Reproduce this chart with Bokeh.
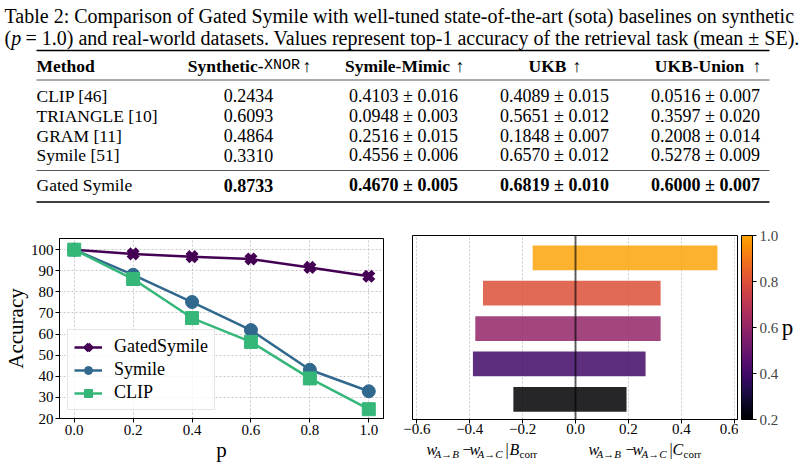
from bokeh.plotting import figure
from bokeh.models import (Range1d, ColumnDataSource, Legend, LegendItem, FixedTicker,
                          PrintfTickFormatter, CustomJSTickFormatter, Span,
                          ColorBar, LinearColorMapper)
from bokeh.layouts import column, row
from bokeh.palettes import Inferno256
from bokeh.core.properties import value
from bokeh.embed import file_html
from bokeh.resources import INLINE

SERIF = "Liberation Serif"
MONO = "Liberation Mono"

# ---------------- table data ----------------
caption_1 = "Table 2: Comparison of Gated Symile with well-tuned state-of-the-art (sota) baselines on synthetic"
caption_2 = "= 1.0) and real-world datasets. Values represent top-1 accuracy of the retrieval task (mean \u00b1 SE)."
methods = ["CLIP [46]", "TRIANGLE [10]", "GRAM [11]", "Symile [51]", "Gated Symile"]
synthetic_xnor = [0.2434, 0.6093, 0.4864, 0.3310, 0.8733]
mimic_mean = [0.4103, 0.0948, 0.2516, 0.4556, 0.4670]
mimic_se = [0.016, 0.003, 0.015, 0.006, 0.005]
ukb_mean = [0.4089, 0.5651, 0.1848, 0.6570, 0.6819]
ukb_se = [0.015, 0.012, 0.007, 0.012, 0.010]
union_mean = [0.0516, 0.3597, 0.2008, 0.5278, 0.6000]
union_se = [0.007, 0.020, 0.014, 0.009, 0.007]
col_headers = ["Symile-Mimic", "UKB", "UKB-Union"]

# ---------------- line chart data ----------------
p_values = [0.0, 0.2, 0.4, 0.6, 0.8, 1.0]
gated_acc = [100.0, 98.0, 96.7, 95.6, 91.6, 87.4]
symile_acc = [100.0, 88.1, 75.2, 61.9, 43.1, 32.9]
clip_acc = [100.0, 86.1, 67.6, 56.3, 39.0, 24.4]
series_names = ["GatedSymile", "Symile", "CLIP"]

# ---------------- bar chart data ----------------
bar_p = [0.2, 0.4, 0.6, 0.8, 1.0]
b_corr = [-0.235, -0.388, -0.379, -0.350, -0.162]
c_corr = [0.193, 0.265, 0.322, 0.322, 0.537]


def txt(fig, x, y, s, size, style="normal", font=SERIF, align="left", baseline="middle"):
    fig.text(x=[x], y=[y], text=[s], text_font=value(font), text_font_size=f"{size}px",
             text_font_style=style, text_align=align, text_baseline=baseline,
             text_color="black")


def canvas_fig(x0, x1, y0, y1):
    """A bare figure whose data coordinates equal page pixels."""
    f = figure(width=int(round(x1 - x0)), height=int(round(y1 - y0)),
               x_range=Range1d(x0, x1), y_range=Range1d(y1, y0),
               x_axis_type=None, y_axis_type=None, output_backend="svg",
               toolbar_location=None, min_border=0)
    f.grid.visible = False
    f.outline_line_color = None
    return f


# =============== TABLE FIGURE ===============
TH = 222
t = canvas_fig(0, 805, 0, TH)

CAP = 20
txt(t, 4, 15, caption_1, CAP)
txt(t, 4, 37, "(", CAP)
txt(t, 10.7, 37, "p", CAP, "italic")
txt(t, 25, 37, caption_2, CAP)

# rules
t.segment(x0=[36], y0=[50], x1=[769], y1=[50], line_color="black", line_width=1.6)
t.segment(x0=[36], y0=[79.5], x1=[769], y1=[79.5], line_color="#555555", line_width=1)
t.segment(x0=[36], y0=[170], x1=[769], y1=[170], line_color="#555555", line_width=1)
t.segment(x0=[36], y0=[201.5], x1=[769], y1=[201.5], line_color="black", line_width=1.6)

# header
HY = 65
txt(t, 36, HY, "Method", 17.5, "bold")
txt(t, 263, HY, "Synthetic-", 17.5, "bold", align="right")
txt(t, 263.5, HY, "XNOR", 15, "normal", font=MONO)
txt(t, 302, HY, "\u2191", 17.5)
col_x = [248, 403, 554, 705]
hdr_name_x = [397, 547, 699]
hdr_arrow_x = [455, 572, 752]
for nx, axx, name in zip(hdr_name_x, hdr_arrow_x, col_headers):
    txt(t, nx, HY, name, 17.5, "bold", align="center")
    txt(t, axx, HY, "\u2191", 17.5)

row_y = [95, 115, 135, 154.5, 184.5]
for i, m in enumerate(methods):
    style = "bold" if i == 4 else "normal"
    txt(t, 36, row_y[i], m, 17.5)
    txt(t, col_x[0], row_y[i], f"{synthetic_xnor[i]:.4f}", 18, style, align="center")
    txt(t, col_x[1], row_y[i], f"{mimic_mean[i]:.4f} \u00b1 {mimic_se[i]:.3f}", 18, style, align="center")
    txt(t, col_x[2], row_y[i], f"{ukb_mean[i]:.4f} \u00b1 {ukb_se[i]:.3f}", 18, style, align="center")
    txt(t, col_x[3], row_y[i], f"{union_mean[i]:.4f} \u00b1 {union_se[i]:.3f}", 18, style, align="center")

# =============== LEFT: LINE CHART ===============
CH = 464 - TH
L = figure(width=400, height=CH, x_range=Range1d(-0.05, 1.05), y_range=Range1d(20, 105.3),
           output_backend="svg", toolbar_location=None,
           min_border_left=56, min_border_right=17, min_border_top=16, min_border_bottom=44)
L.outline_line_color = "black"
L.outline_line_alpha = 1
for ax in (L.xaxis[0], L.yaxis[0]):
    ax.axis_line_color = "black"
    ax.major_tick_in = 0
    ax.major_tick_out = 4
    ax.minor_tick_line_color = None
    ax.major_label_text_font = SERIF
    ax.major_label_text_font_size = "15px"
    ax.major_label_text_color = "black"
    ax.axis_label_text_font = SERIF
    ax.axis_label_text_font_size = "21px"
    ax.axis_label_text_font_style = "normal"
    ax.axis_label_text_color = "black"
L.xaxis.ticker = FixedTicker(ticks=p_values)
L.xaxis.formatter = PrintfTickFormatter(format="%.1f")
L.yaxis.ticker = FixedTicker(ticks=[20, 30, 40, 50, 60, 70, 80, 90, 100])
L.xaxis.axis_label = "p"
L.yaxis.axis_label = "Accuracy"
L.xaxis.major_label_standoff = 2
L.xaxis.axis_label_standoff = 0
L.yaxis.major_label_standoff = 2
L.yaxis.axis_label_standoff = 0
L.grid.grid_line_color = "#bbbbbb"
L.grid.grid_line_dash = "2 2"
L.grid.grid_line_alpha = 0.8

colors = ["#440154", "#31688e", "#35b779"]
markers = ["x", "circle", "square"]
items = []
for name, acc, col, mk in zip(series_names, [gated_acc, symile_acc, clip_acc], colors, markers):
    src = ColumnDataSource(dict(p=p_values, acc=acc))
    r1 = L.line("p", "acc", source=src, line_color=col, line_width=2.5)
    if mk == "x":
        r2 = L.scatter("p", "acc", source=src, marker="x", size=13, line_color=col, line_width=5.5)
    else:
        r2 = L.scatter("p", "acc", source=src, marker=mk, size=13, fill_color=col, line_color=col)
    items.append(LegendItem(label=name, renderers=[r1, r2]))

legend = Legend(items=items, location="bottom_left", margin=8, padding=6, spacing=2,
                glyph_width=28, glyph_height=20, label_height=20, label_standoff=12,
                label_text_font=SERIF, label_text_font_size="18px", label_text_color="black",
                border_line_color="#cccccc", background_fill_alpha=0.8)
L.add_layout(legend)

# =============== RIGHT: BAR CHART ===============
RH = 440 - TH          # bar chart canvas: page y 222..440
R = figure(width=338, height=RH, x_range=Range1d(-0.6165, 0.6165), y_range=Range1d(-0.57, 4.63),
           output_backend="svg", toolbar_location=None, y_axis_type=None,
           min_border_left=12, min_border_right=0, min_border_top=13, min_border_bottom=20)
R.outline_line_color = "black"
R.outline_line_alpha = 1
xa = R.xaxis[0]
xa.axis_line_color = "black"
xa.major_tick_in = 0
xa.major_tick_out = 4
xa.minor_tick_line_color = None
xa.major_label_text_font = SERIF
xa.major_label_text_font_size = "15px"
xa.major_label_text_color = "black"
xa.major_label_standoff = 0
xa.ticker = FixedTicker(ticks=[-0.6, -0.4, -0.2, 0.0, 0.2, 0.4, 0.6])
xa.formatter = CustomJSTickFormatter(code="return tick.toFixed(1).replace('-', '\u2212');")
R.xgrid.grid_line_color = "#bbbbbb"
R.xgrid.grid_line_dash = "2 2"
R.xgrid.grid_line_alpha = 0.8

mapper = LinearColorMapper(palette=Inferno256[:205], low=0.2, high=1.0)
bsrc = ColumnDataSource(dict(y=list(range(len(bar_p))), left=b_corr, right=c_corr, p=bar_p))
R.hbar(y="y", left="left", right="right", height=0.7, source=bsrc,
       fill_color={"field": "p", "transform": mapper}, line_color=None, fill_alpha=0.85)
R.add_layout(Span(location=0, dimension="height", line_color="black", line_alpha=0.6, line_width=2))

# colour bar holder (page x 738..781): tiny empty frame, bar in its right panel
CBF = figure(width=43, height=RH, x_range=Range1d(0, 1), y_range=Range1d(0, 1),
             x_axis_type=None, y_axis_type=None, output_backend="svg", toolbar_location=None,
             min_border_left=0, min_border_right=37, min_border_top=13, min_border_bottom=21)
CBF.grid.visible = False
CBF.outline_line_color = None
cb = ColorBar(color_mapper=mapper, width=11, height=184, padding=0, margin=0,
              ticker=FixedTicker(ticks=bar_p), formatter=PrintfTickFormatter(format="%.1f"),
              major_label_text_font=SERIF, major_label_text_font_size="15px",
              major_tick_in=0, major_tick_out=4, major_tick_line_color="black",
              bar_line_color="black", label_standoff=3, minor_tick_line_color=None,
              background_fill_alpha=0)
CBF.add_layout(cb, "right")

# colour-bar label "p" (page x 781..805)
P = canvas_fig(781, 805, TH, 440)
txt(P, 787, 331, "p", 23, align="center")

# math x-axis labels of the bar chart (page y 440..464)
S = canvas_fig(400, 805, 440, 464)
MAIN_Y = 449
SUB_Y = 453
pieces = [(426, "w", "italic", 16, MAIN_Y), (434, "A\u2192B", "italic", 11, SUB_Y),
          (462, "\u2212", "normal", 16, MAIN_Y), (469, "w", "italic", 16, MAIN_Y),
          (477, "A\u2192C", "italic", 11, SUB_Y), (505, "|", "normal", 16, MAIN_Y),
          (509, "B", "italic", 16, MAIN_Y), (519, "corr", "normal", 11, SUB_Y),
          (588, "w", "italic", 16, MAIN_Y), (596, "A\u2192B", "italic", 11, SUB_Y),
          (625, "\u2212", "normal", 16, MAIN_Y), (632, "w", "italic", 16, MAIN_Y),
          (641, "A\u2192C", "italic", 11, SUB_Y), (669, "|", "normal", 16, MAIN_Y),
          (672, "C", "italic", 16, MAIN_Y), (683, "corr", "normal", 11, SUB_Y)]
for px, s, st, sz, py in pieces:
    txt(S, px, py, s, sz, st, baseline="alphabetic")

layout = column(t, row(L, column(row(R, CBF, P), S)))
with open("out.html", "w") as f:
    f.write(file_html(layout, INLINE))
